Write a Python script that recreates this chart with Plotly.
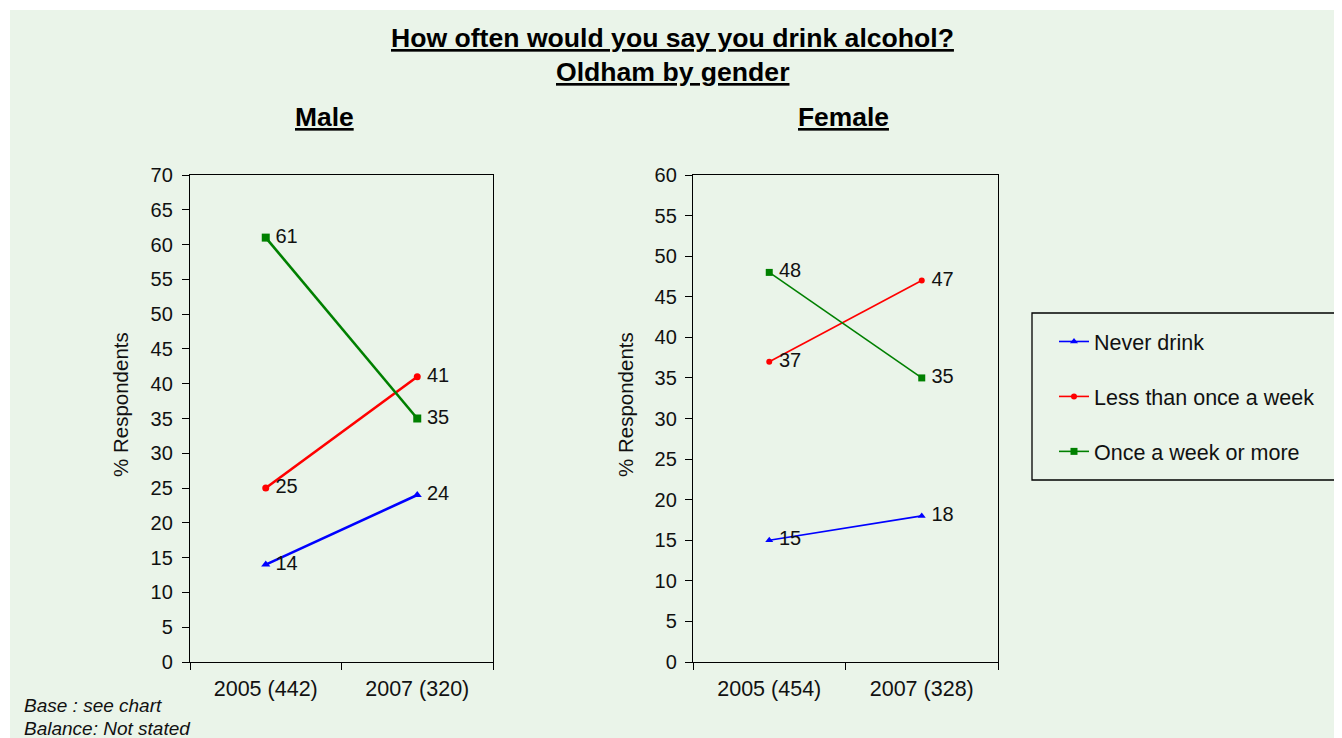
import plotly.graph_objects as go

# page is drawn with an 8px body margin; figure covers the rest of the window
OFF = 8
W, H = 1342 - OFF, 738 - OFF

# ---- data ----
male_categories = ["2005 (442)", "2007 (320)"]
female_categories = ["2005 (454)", "2007 (328)"]
series_names = ["Never drink", "Less than once a week", "Once a week or more"]
male_never = [14, 24]
male_less = [25, 41]
male_once = [61, 35]
female_never = [15, 18]
female_less = [37, 47]
female_once = [48, 35]

colors = ["#0000FF", "#FF0000", "#008000"]
symbols = ["triangle-up", "circle", "square"]
FONT = "Liberation Sans, Arial, sans-serif"


def px_x(x):
    return (x - OFF) / W


def px_y(y):
    return 1 - (y - OFF) / H


fig = go.Figure()

panels = [
    ("x", "y", male_categories, [male_never, male_less, male_once], 2.6, [8, 7, 8], False),
    ("x2", "y2", female_categories, [female_never, female_less, female_once], 1.6, [7, 6, 7], True),
]

for xa, ya, cats, vals, lw, msz, show in panels:
    for i, (name, v) in enumerate(zip(series_names, vals)):
        fig.add_trace(go.Scatter(
            x=cats, y=v, xaxis=xa, yaxis=ya, name=name,
            mode="lines+markers",
            line=dict(color=colors[i], width=lw),
            marker=dict(color=colors[i], symbol=symbols[i], size=msz[i]),
            showlegend=show, legendgroup=name,
        ))
        fig.add_trace(go.Scatter(
            x=cats, y=v, xaxis=xa, yaxis=ya, name=name,
            mode="markers+text", text=[str(t) for t in v],
            textposition="middle right",
            textfont=dict(family=FONT, size=20, color="#111"),
            marker=dict(size=14, opacity=0),
            showlegend=False, hoverinfo="skip",
        ))

axis_common = dict(showline=True, linecolor="black", linewidth=1.3, mirror=True,
                   showgrid=False, zeroline=False, ticks="outside", ticklen=7,
                   tickcolor="black", tickwidth=1.3, automargin=False)
xfont = dict(family=FONT, size=21.5, color="#111")
yfont = dict(family=FONT, size=20, color="#111")

fig.update_layout(
    template="none",
    width=W, height=H, autosize=False,
    margin=dict(l=0, r=0, t=0, b=0, pad=0),
    paper_bgcolor="white", plot_bgcolor="rgba(0,0,0,0)",
    font=dict(family=FONT, color="#111"),
    xaxis=dict(domain=[px_x(190), px_x(493)], type="category", tickson="boundaries",
               range=[-0.5, 1.5], anchor="y", tickfont=xfont, ticklabelstandoff=7, **axis_common),
    yaxis=dict(domain=[px_y(662), px_y(175)], range=[0, 70], dtick=5, anchor="x",
               tickfont=yfont, ticklabelstandoff=5, **axis_common),
    xaxis2=dict(domain=[px_x(693), px_x(998)], type="category", tickson="boundaries",
                range=[-0.5, 1.5], anchor="y2", tickfont=xfont, ticklabelstandoff=7, **axis_common),
    yaxis2=dict(domain=[px_y(662), px_y(175)], range=[0, 60], dtick=5, anchor="x2",
                tickfont=yfont, ticklabelstandoff=4, **axis_common),
    showlegend=True,
    legend=dict(x=px_x(1054), y=px_y(321), xanchor="left", yanchor="top",
                bgcolor="rgba(0,0,0,0)", borderwidth=0,
                font=dict(family=FONT, size=21.5, color="#111"),
                traceorder="grouped", tracegroupgap=24),
    shapes=[
        dict(type="rect", xref="paper", yref="paper", x0=px_x(10), x1=1, y0=0, y1=px_y(10),
             fillcolor="#EAF4E9", line=dict(width=0), layer="below"),
        dict(type="rect", xref="paper", yref="paper", x0=px_x(1032), x1=px_x(1339),
             y0=px_y(480), y1=px_y(313), line=dict(color="black", width=1.3),
             fillcolor="rgba(0,0,0,0)"),
    ],
)

annotations = [
    dict(text="<b><u>How often would you say you drink alcohol?</u></b>", x=px_x(672), y=px_y(38), size=26.6),
    dict(text="<b><u>Oldham by gender</u></b>", x=px_x(672), y=px_y(72), size=26.6),
    dict(text="<b><u>Male</u></b>", x=px_x(324), y=px_y(117), size=26.4),
    dict(text="<b><u>Female</u></b>", x=px_x(844), y=px_y(117), size=26.4),
]
for a in annotations:
    fig.add_annotation(text=a["text"], x=a["x"], y=a["y"], xref="paper", yref="paper",
                       showarrow=False, xanchor="center", yanchor="middle",
                       font=dict(family=FONT, size=a["size"], color="black"))

for xpos in (120, 625):
    fig.add_annotation(text="% Respondents", x=px_x(xpos), y=px_y(405), xref="paper", yref="paper",
                       showarrow=False, textangle=-90, xanchor="center", yanchor="middle",
                       font=dict(family=FONT, size=20.5, color="#111"))

for txt, ypos in (("<i>Base : see chart</i>", 705), ("<i>Balance: Not stated</i>", 728)):
    fig.add_annotation(text=txt, x=px_x(22), y=px_y(ypos), xref="paper", yref="paper",
                       showarrow=False, xanchor="left", yanchor="middle",
                       font=dict(family=FONT, size=19, color="#111"))

fig.write_html("out.html")
